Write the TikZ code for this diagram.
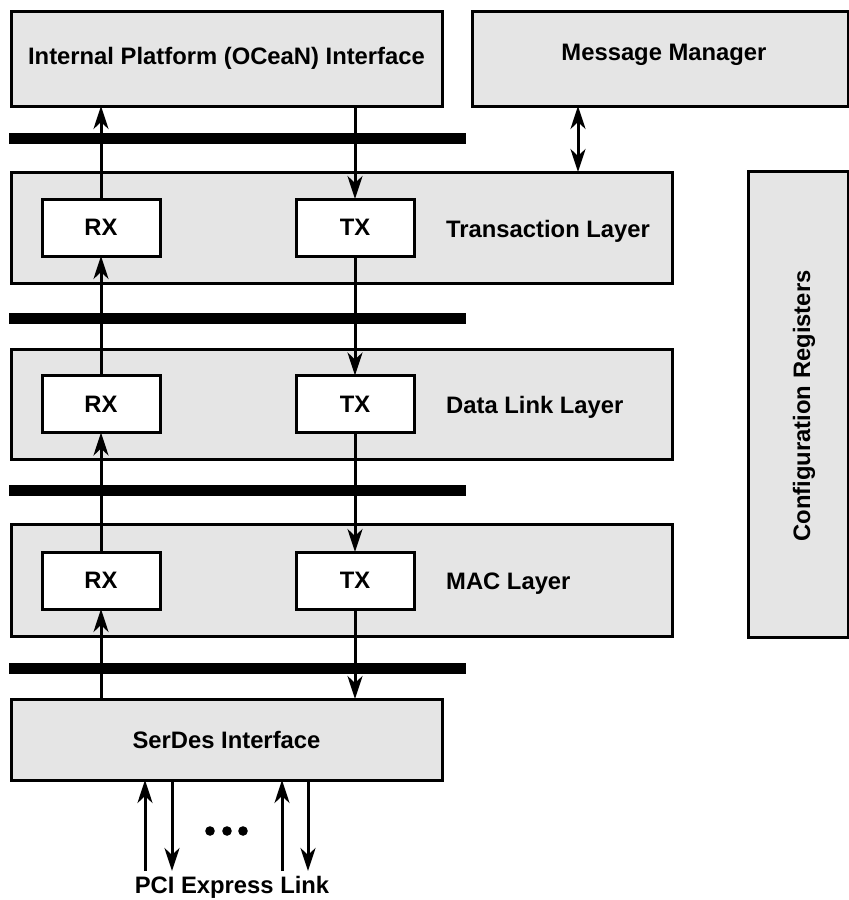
\documentclass[tikz,border=0pt]{standalone}
\usepackage{fontspec}
\setmainfont{Liberation Sans}
\usetikzlibrary{arrows.meta,calc}
\definecolor{boxgray}{HTML}{E5E5E5}
\tikzset{
  blk/.style={draw=black, fill=boxgray, line width=3pt, inner sep=0pt, outer sep=0pt},
  subblk/.style={draw=black, fill=white, line width=3pt, inner sep=0pt, outer sep=0pt,
    minimum width=118pt, minimum height=57pt},
  txt/.style={font=\bfseries\fontsize{23.8pt}{28pt}\selectfont, inner sep=0pt},
  bus/.style={line width=11pt, black},
  arr/.style={line width=3pt, -{Stealth[length=23pt, width=15pt, inset=7pt]}},
  arrtwo/.style={line width=3pt, {Stealth[length=23pt, width=15pt, inset=7pt]}-{Stealth[length=23pt, width=15pt, inset=7pt]}},
}
\begin{document}
\begin{tikzpicture}[x=1pt, y=-1pt]
\useasboundingbox (0,0) rectangle (849,900);

% top blocks
\node[blk, txt, minimum width=431pt, minimum height=95pt] (ipi) at (226.5,58.5) {Internal Platform (OCeaN) Interface};
\node[blk, minimum width=376pt, minimum height=95pt] (mm) at (660,58.5) {};
\node[txt] (mmtxt) at (664,55) {Message Manager};

% layers
\node[blk, minimum width=661pt, minimum height=111pt] (tl) at (341.5,227.5) {};
\node[blk, minimum width=661pt, minimum height=110pt] (dl) at (341.5,404) {};
\node[blk, minimum width=661pt, minimum height=112pt] (mac) at (341.5,580) {};
\node[txt, anchor=west] (tltxt) at (446,231) {Transaction Layer};
\node[txt, anchor=west] (dltxt) at (446,407.5) {Data Link Layer};
\node[txt, anchor=west] (mactxt) at (446,583.5) {MAC Layer};

% RX / TX
\node[subblk, txt] (rxT) at (101,227.5) {RX};
\node[subblk, txt] (txT) at (355,227.5) {TX};
\node[subblk, txt] (rxD) at (101,404) {RX};
\node[subblk, txt] (txD) at (355,404) {TX};
\node[subblk, txt] (rxM) at (101,580.5) {RX};
\node[subblk, txt] (txM) at (355,580.5) {TX};

% config registers
\node[blk, minimum width=100pt, minimum height=466pt] (cfg) at (798,404) {};
\node[txt, rotate=90] (cfgtxt) at (804,406) {Configuration Registers};

% serdes
\node[blk, txt, minimum width=431pt, minimum height=81pt] (sd) at (226.5,739.5) {SerDes Interface};

% buses
\draw[bus] (9,138.5) -- (466,138.5);
\draw[bus] (9,318) -- (466,318);
\draw[bus] (9,490.5) -- (466,490.5);
\draw[bus] (9,668.5) -- (466,668.5);

% RX path (upwards)
\draw[arr] (rxT.north) -- (rxT.north |- ipi.south);
\draw[arr] (rxD.north) -- (rxD.north |- rxT.south);
\draw[arr] (rxM.north) -- (rxM.north |- rxD.south);
\draw[arr] (rxM.south |- sd.north) -- (rxM.south);

% TX path (downwards)
\draw[arr] (txT.north |- ipi.south) -- (txT.north);
\draw[arr] (txT.south) -- (txD.north);
\draw[arr] (txD.south) -- (txM.north);
\draw[arr] (txM.south) -- (txM.south |- sd.north);

% message manager <-> transaction layer
\coordinate (mmx) at (578,0);
\draw[arrtwo] (mmx |- mm.south) -- (mmx |- tl.north);

% PCI Express link lanes
\coordinate (l1) at (145,871);
\coordinate (l2) at (172,871);
\coordinate (l3) at (282,871);
\coordinate (l4) at (308,871);
\draw[arr] (l1) -- (l1 |- sd.south);
\draw[arr] (l2 |- sd.south) -- (l2);
\draw[arr] (l3) -- (l3 |- sd.south);
\draw[arr] (l4 |- sd.south) -- (l4);

\fill (210,831) circle (4.8pt);
\fill (227,831) circle (4.8pt);
\fill (243,831) circle (4.8pt);

\node[txt, anchor=base] (pci) at (232,893) {PCI Express Link};
\end{tikzpicture}
\end{document}
